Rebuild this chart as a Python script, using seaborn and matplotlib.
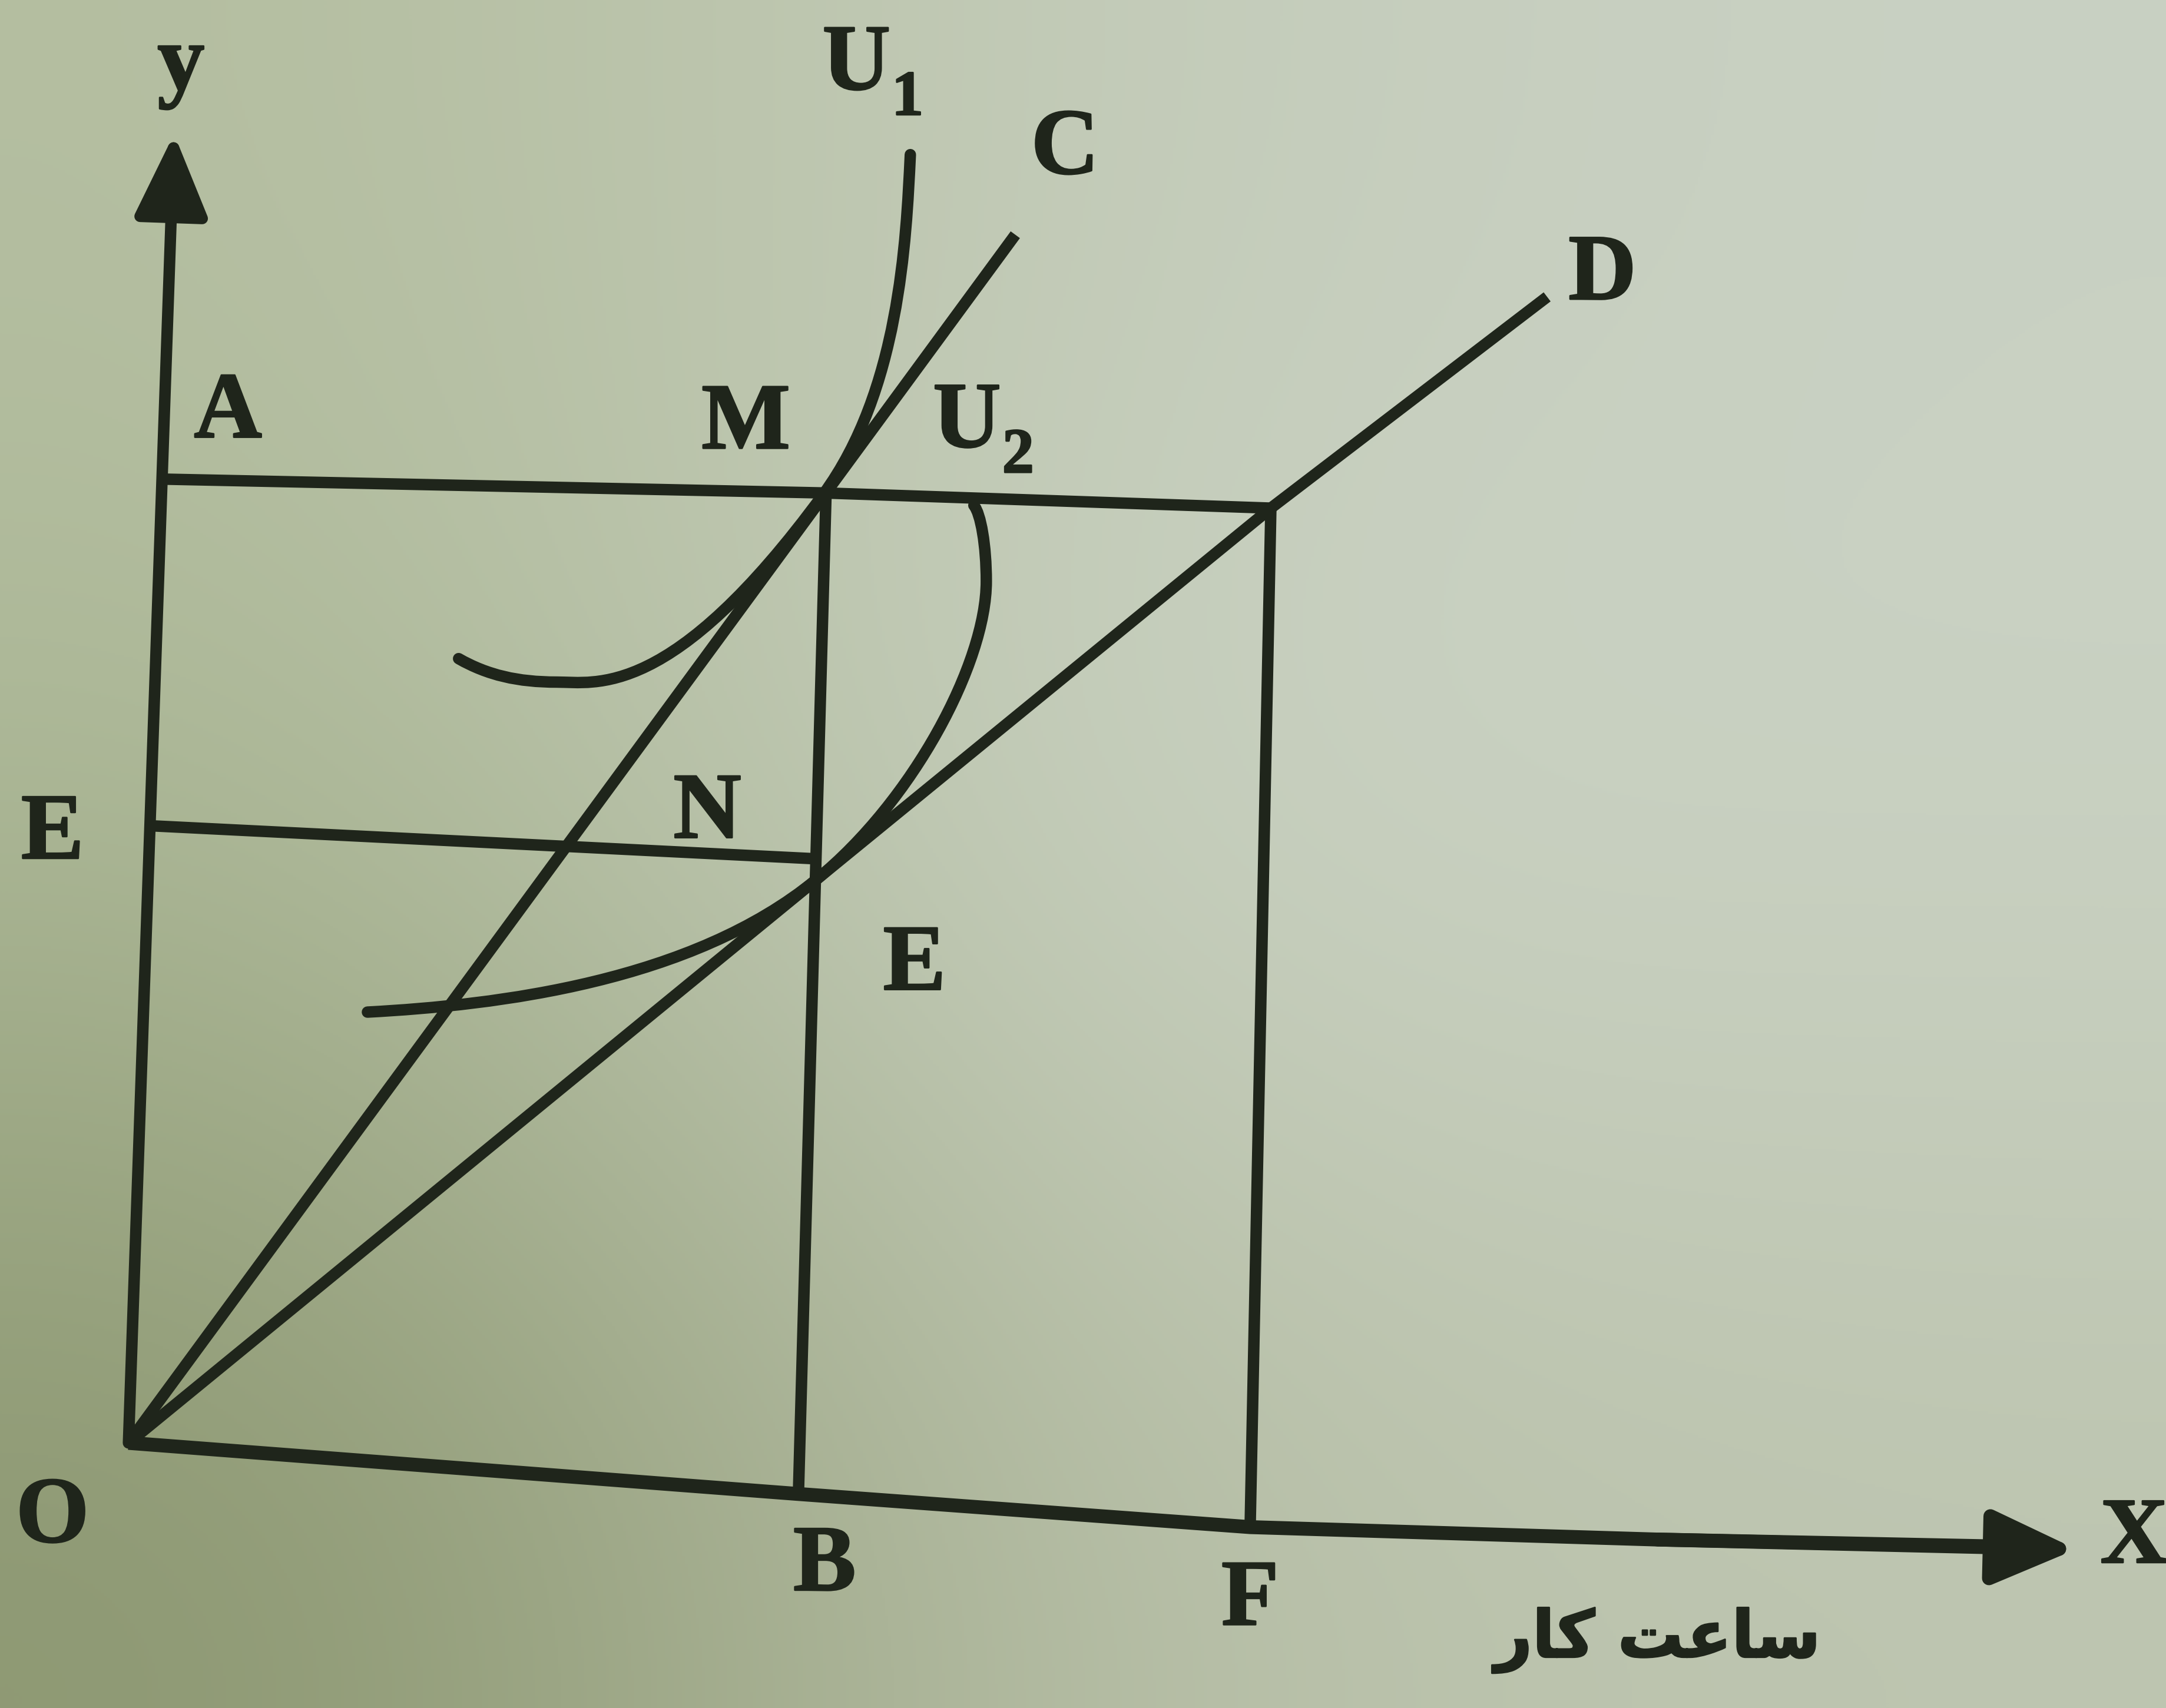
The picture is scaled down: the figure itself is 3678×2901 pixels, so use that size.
import numpy as np
import matplotlib
matplotlib.use("Agg")
import matplotlib.pyplot as plt
import matplotlib.patheffects as pe
from matplotlib.path import Path
from matplotlib.patches import PathPatch
import seaborn as sns

sns.set_theme(style="white")
plt.rcParams["font.family"] = ["Liberation Serif", "DejaVu Serif"]

INK = "#1f251b"

# ---- axes (origin O at 0,0) ----
y_axis_x = [0, 33]
y_axis_y = [0, 948]
x_axis_x = [0, 485, 812, 1107, 1352]
x_axis_y = [0, -37, -61, -70, -75]
x_arrow_tip = [1410, -77]

# ---- rays from the origin ----
ray_oc_x = [0, 642]
ray_oc_y = [0, 875]
ray_od_x = [0, 498, 827, 1027]
ray_od_y = [0, 408, 677, 830]

# ---- guide lines ----
line_a_x = [25, 503, 827]
line_a_y = [698, 688, 677]
line_e_x = [15, 498]
line_e_y = [447, 423]
line_b_x = [505, 485]
line_b_y = [688, -37]
line_f_x = [827, 812]
line_f_y = [677, -61]

# ---- indifference curves (cubic Bezier control points) ----
u1_x = [239, 260, 282, 310, 338, 393, 503, 558, 563, 566]
u1_y = [568, 556, 551, 551, 551, 537, 687, 762, 870, 933]
u2_x = [173, 267, 408, 498, 568, 621, 621, 621, 617, 612]
u2_y = [312, 317, 334, 408, 465, 565, 624, 650, 673, 679]

# ---- point labels ----
label_text = ["y", "A", "M", "C", "D", "E", "N", "E", "O", "B", "F", "X"]
label_x = [38, 72, 447, 678, 1067, -55, 419, 569, -55, 504, 812, 1452]
label_y = [997, 745, 737, 936, 845, 440, 455, 345, -55, -90, -115, -70]
curve_names = ["U", "U"]
curve_subs = ["1", "2"]
curve_lab_x = [527, 607]
curve_lab_y = [997, 738]
sub_dx = 37
sub_dy = -24
x_caption = "\uFEAD\uFE8E\uFB90 \uFE96\uFECB\uFE8E\uFEB3"  # ساعت کار
x_caption_pos = [1107, -143]

XLIM = (-93, 1475)
YLIM = (-192, 1045)

fig = plt.figure(figsize=(36.78, 29.01), dpi=100)
ax = fig.add_axes([0, 0, 1, 1])
ax.set_xlim(*XLIM)
ax.set_ylim(*YLIM)
ax.axis("off")

# paper tone of the page
paper = np.array([
    [[180, 190, 160], [196, 204, 186], [201, 209, 195]],
    [[170, 182, 148], [204, 212, 197], [202, 210, 195]],
    [[140, 151, 113], [184, 192, 168], [189, 197, 176]],
], dtype=float) / 255.0
ax.imshow(paper, extent=(XLIM[0], XLIM[1], YLIM[0], YLIM[1]), origin="upper",
          aspect="auto", interpolation="bicubic", zorder=0)

LW = 14
LW_AX = 17
BOLDEN = [pe.withStroke(linewidth=2, foreground=INK)]


def seg(xs, ys, lw=LW):
    sns.lineplot(x=xs, y=ys, sort=False, estimator=None, color=INK, lw=lw,
                 ax=ax, solid_capstyle="butt", solid_joinstyle="round", zorder=3)


def bezier(xs, ys):
    verts = list(zip(xs, ys))
    codes = [Path.MOVETO] + [Path.CURVE4] * (len(verts) - 1)
    ax.add_patch(PathPatch(Path(verts, codes), fill=False, edgecolor=INK, lw=LW,
                           capstyle="round", zorder=3))


# axes with arrowheads
seg(x_axis_x, x_axis_y, LW_AX)
ax.annotate("", xy=(x_arrow_tip[0], x_arrow_tip[1]), xytext=(x_axis_x[-2], x_axis_y[-2]),
            arrowprops=dict(arrowstyle="-|>,head_length=0.85,head_width=0.38",
                            mutation_scale=100, color=INK, lw=LW_AX,
                            shrinkA=0, shrinkB=0), zorder=3)
ax.annotate("", xy=(y_axis_x[1], y_axis_y[1]), xytext=(y_axis_x[0], y_axis_y[0]),
            arrowprops=dict(arrowstyle="-|>,head_length=0.85,head_width=0.38",
                            mutation_scale=100, color=INK, lw=LW,
                            shrinkA=0, shrinkB=0), zorder=3)

# rays and guide lines
seg(ray_oc_x, ray_oc_y)
seg(ray_od_x, ray_od_y)
seg(line_a_x, line_a_y)
seg(line_e_x, line_e_y)
seg(line_b_x, line_b_y)
seg(line_f_x, line_f_y)

# indifference curves
bezier(u1_x, u1_y)
bezier(u2_x, u2_y)

# labels
for t, lx, ly in zip(label_text, label_x, label_y):
    ax.text(lx, ly, t, ha="center", va="center", fontsize=115,
            fontweight="bold", color=INK, zorder=4, path_effects=BOLDEN)
for t, s, lx, ly in zip(curve_names, curve_subs, curve_lab_x, curve_lab_y):
    ax.text(lx, ly, t, ha="center", va="center", fontsize=115,
            fontweight="bold", color=INK, zorder=4, path_effects=BOLDEN)
    ax.text(lx + sub_dx, ly + sub_dy, s, ha="center", va="center", fontsize=78,
            fontweight="bold", color=INK, zorder=4, path_effects=BOLDEN)
ax.text(x_caption_pos[0], x_caption_pos[1], x_caption, ha="center", va="center",
        fontsize=80, fontweight="bold", family=["DejaVu Sans"], color=INK, zorder=4,
        path_effects=BOLDEN)

fig.savefig("out.png", dpi=100)
